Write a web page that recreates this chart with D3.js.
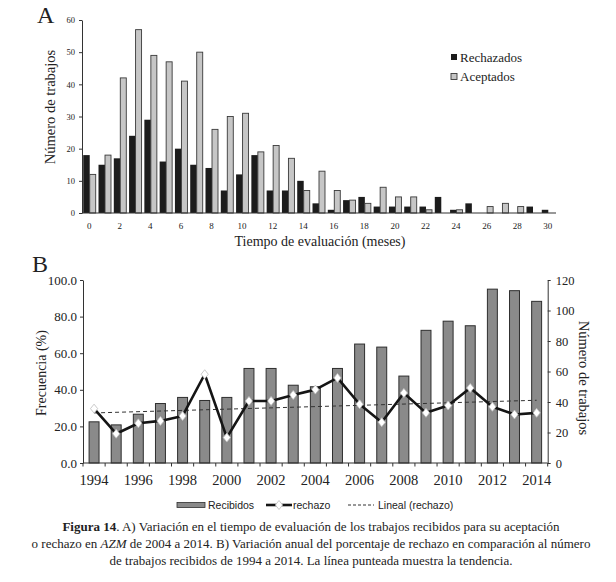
<!DOCTYPE html>
<html><head><meta charset="utf-8">
<script src="https://cdn.jsdelivr.net/npm/d3@7"></script>
<style>
body{margin:0;background:#fff;}
svg{display:block;}
text{font-family:"Liberation Serif","Times New Roman",serif;fill:#222;}
.sans{font-family:"Liberation Sans",Arial,sans-serif;}
</style></head>
<body>
<svg id="chart" width="616" height="582"></svg>
<script>
// ---------- Panel A data ----------
const months = d3.range(0, 31);
const rechazados = [18,15,17,24,29,16,20,15,14,7,12,18,7,7,10,3,1,4,5,2,2,2,2,5,1,3,0,0,0,2,1];
const aceptados  = [12,18,42,57,49,47,41,50,26,30,31,19,21,17,7,13,7,4,3,8,5,5,1,0,1,0,2,3,2,0,0];
const monthTicks = d3.range(0, 31, 2);
const yTicksA = [0,10,20,30,40,50,60];

// ---------- Panel B data ----------
const years = d3.range(1994, 2015);
const recibidos = [27,25,32,39,43,41,43,62,62,51,50,62,78,76,57,87,93,90,114,113,106];
const rechazo = [29.7,16.0,21.7,23.0,25.7,48.5,13.9,33.9,33.9,37.2,40.1,46.5,32.1,22.3,38.3,27.4,31.4,41.0,30.7,26.5,27.4];
const yearTicks = d3.range(1994, 2015, 2);
const yTicksBL = [0,20,40,60,80,100];
const yTicksBR = [0,20,40,60,80,100,120];

const svg = d3.select("#chart");
const axisCol = "#333";

// ================= PANEL A =================
const xA = d3.scaleBand().domain(months).range([82, 556]).paddingInner(0.15).paddingOuter(0.08);
const yA = d3.scaleLinear().domain([0, 60]).range([213, 20]);
const gA = svg.append("g");
const half = xA.bandwidth() / 2;

gA.selectAll("rect.rech").data(months).join("rect")
  .attr("x", d => xA(d)).attr("y", d => yA(rechazados[d]))
  .attr("width", half).attr("height", d => yA(0) - yA(rechazados[d]))
  .attr("fill", "#1c1c1c");
gA.selectAll("rect.acep").data(months.filter(d => aceptados[d] > 0)).join("rect")
  .attr("x", d => xA(d) + half).attr("y", d => yA(aceptados[d]))
  .attr("width", half - 0.5).attr("height", d => yA(0) - yA(aceptados[d]))
  .attr("fill", "#c6c6c6").attr("stroke", "#3a3a3a").attr("stroke-width", 0.9);

// y axis A
const yAxisA = gA.append("g").attr("transform", "translate(82,0)")
  .call(d3.axisLeft(yA).tickValues(yTicksA).tickSize(3).tickSizeOuter(0).tickPadding(4));
yAxisA.select(".domain").attr("stroke", axisCol);
yAxisA.selectAll("line").attr("stroke", axisCol);
yAxisA.selectAll("text").attr("font-size", 8.5).attr("fill", "#444")
  .attr("font-family", "Liberation Serif");
// x axis A
gA.append("line").attr("x1", 82).attr("x2", 556).attr("y1", yA(0)).attr("y2", yA(0))
  .attr("stroke", axisCol).attr("stroke-width", 1.2);
gA.selectAll("text.mt").data(monthTicks).join("text")
  .attr("x", d => xA(d) + xA.bandwidth() / 2 - 0.5).attr("y", 229)
  .attr("text-anchor", "middle").attr("font-size", 9).attr("fill", "#444").text(d => d);

gA.append("text").attr("x", 37).attr("y", 23).attr("font-size", 24).text("A");
gA.append("text").attr("transform", "translate(55,107) rotate(-90)")
  .attr("text-anchor", "middle").attr("font-size", 14.5).text("Número de trabajos");
gA.append("text").attr("x", 320).attr("y", 246).attr("text-anchor", "middle")
  .attr("font-size", 14).text("Tiempo de evaluación (meses)");

// legend A
const legA = gA.append("g");
legA.append("rect").attr("x", 451).attr("y", 54).attr("width", 6).attr("height", 6).attr("fill", "#1c1c1c");
legA.append("text").attr("x", 460).attr("y", 62).attr("font-size", 13).text("Rechazados");
legA.append("rect").attr("x", 451).attr("y", 73.5).attr("width", 6).attr("height", 6)
  .attr("fill", "#c6c6c6").attr("stroke", "#3a3a3a").attr("stroke-width", 0.9);
legA.append("text").attr("x", 460).attr("y", 81).attr("font-size", 13).text("Aceptados");

// ================= PANEL B =================
const xB = d3.scaleBand().domain(years).range([83, 547.7]).paddingInner(0.55).paddingOuter(0.275);
const yL = d3.scaleLinear().domain([0, 100]).range([463, 280]);
const yR = d3.scaleLinear().domain([0, 120]).range([463, 280]);
const gB = svg.append("g");
const cx = d => xB(d) + xB.bandwidth() / 2;

gB.selectAll("rect.rec").data(years).join("rect")
  .attr("x", d => xB(d)).attr("y", (d, i) => yR(recibidos[i]))
  .attr("width", xB.bandwidth()).attr("height", (d, i) => yR(0) - yR(recibidos[i]))
  .attr("fill", "#8a8a8a").attr("stroke", "#2e2e2e").attr("stroke-width", 1);

// trend line (least squares of rechazo)
const n = years.length;
const mx = d3.mean(years), my = d3.mean(rechazo);
const slope = d3.sum(years, (y, i) => (y - mx) * (rechazo[i] - my)) / d3.sum(years, y => (y - mx) ** 2);
const trend = y => my + slope * (y - mx);
gB.append("line").attr("x1", cx(years[0])).attr("x2", cx(years[n - 1]))
  .attr("y1", yL(trend(years[0]))).attr("y2", yL(trend(years[n - 1])))
  .attr("stroke", "#333").attr("stroke-width", 1).attr("stroke-dasharray", "4,3");

// rechazo line
gB.append("path").datum(years)
  .attr("d", d3.line().x(d => cx(d)).y((d, i) => yL(rechazo[i])))
  .attr("fill", "none").attr("stroke", "#151515").attr("stroke-width", 2.6).attr("stroke-linejoin", "round");
const diamond = "M0,-4.5L3.6,0L0,4.5L-3.6,0Z";
gB.selectAll("path.mk").data(years).join("path")
  .attr("transform", (d, i) => `translate(${cx(d)},${yL(rechazo[i])})`)
  .attr("d", diamond).attr("fill", "#fff").attr("stroke", "#bdbdbd").attr("stroke-width", 0.8);

// axes B
const yAxL = gB.append("g").attr("transform", "translate(83,0)")
  .call(d3.axisLeft(yL).tickValues(yTicksBL).tickFormat(d3.format(".1f")).tickSize(3).tickSizeOuter(0).tickPadding(3));
yAxL.selectAll("text").attr("font-size", 13).attr("font-family", "Liberation Serif").attr("fill", "#222");
yAxL.select(".domain").attr("stroke", axisCol);
yAxL.selectAll("line").attr("stroke", axisCol);
const yAxR = gB.append("g").attr("transform", "translate(547.7,0)")
  .call(d3.axisRight(yR).tickValues(yTicksBR).tickSize(3).tickSizeOuter(0).tickPadding(5));
yAxR.selectAll("text").attr("font-size", 12.5).attr("font-family", "Liberation Serif").attr("fill", "#222");
yAxR.select(".domain").attr("stroke", axisCol);
yAxR.selectAll("line").attr("stroke", axisCol);

gB.append("line").attr("x1", 83).attr("x2", 547.7).attr("y1", 463).attr("y2", 463)
  .attr("stroke", axisCol).attr("stroke-width", 1.2);
const tickPos = years.map(y => xB(y) - (xB.step() - xB.bandwidth()) / 2).concat([547.7]);
gB.selectAll("line.xt").data(tickPos).join("line")
  .attr("x1", d => d).attr("x2", d => d).attr("y1", 463).attr("y2", 466.5)
  .attr("stroke", axisCol);
gB.selectAll("text.yt").data(yearTicks).join("text")
  .attr("x", d => cx(d)).attr("y", 485).attr("text-anchor", "middle")
  .attr("font-size", 14.5).text(d => d);

gB.append("text").attr("x", 32).attr("y", 272).attr("font-size", 24).text("B");
gB.append("text").attr("transform", "translate(46,373) rotate(-90)")
  .attr("text-anchor", "middle").attr("font-size", 14).text("Frecuencia (%)");
gB.append("text").attr("transform", "translate(579,378) rotate(90)")
  .attr("text-anchor", "middle").attr("font-size", 14.5).text("Número de trabajos");

// legend B
const legB = gB.append("g");
legB.append("rect").attr("x", 177).attr("y", 502.5).attr("width", 28).attr("height", 5)
  .attr("fill", "#8a8a8a").attr("stroke", "#2e2e2e").attr("stroke-width", 0.8);
legB.append("text").attr("class", "sans").attr("x", 208).attr("y", 509).attr("font-size", 10.5).attr("fill", "#333").text("Recibidos");
legB.append("line").attr("x1", 266).attr("x2", 292).attr("y1", 505).attr("y2", 505)
  .attr("stroke", "#151515").attr("stroke-width", 2.6);
legB.append("path").attr("transform", "translate(279,505)").attr("d", diamond)
  .attr("fill", "#fff").attr("stroke", "#bdbdbd").attr("stroke-width", 0.8);
legB.append("text").attr("class", "sans").attr("x", 293).attr("y", 509).attr("font-size", 10.5).attr("fill", "#333").text("rechazo");
legB.append("line").attr("x1", 348).attr("x2", 374).attr("y1", 505).attr("y2", 505)
  .attr("stroke", "#333").attr("stroke-width", 1).attr("stroke-dasharray", "3,2");
legB.append("text").attr("class", "sans").attr("x", 378).attr("y", 509).attr("font-size", 10.5).attr("fill", "#333").text("Lineal (rechazo)");

// ================= CAPTION =================
const cap = svg.append("g").attr("font-size", 13);
const l1 = cap.append("text").attr("x", 311).attr("y", 531).attr("text-anchor", "middle");
l1.append("tspan").attr("font-weight", "bold").text("Figura 14");
l1.append("tspan").text(". A) Variación en el tiempo de evaluación de los trabajos recibidos para su aceptación");
const l2 = cap.append("text").attr("x", 311).attr("y", 548).attr("text-anchor", "middle");
l2.append("tspan").text("o rechazo en ");
l2.append("tspan").attr("font-style", "italic").text("AZM");
l2.append("tspan").text(" de 2004 a 2014. B) Variación anual del porcentaje de rechazo en comparación al número");
cap.append("text").attr("x", 311).attr("y", 565).attr("text-anchor", "middle")
  .text("de trabajos recibidos de 1994 a 2014. La línea punteada muestra la tendencia.");
</script>
</body></html>
